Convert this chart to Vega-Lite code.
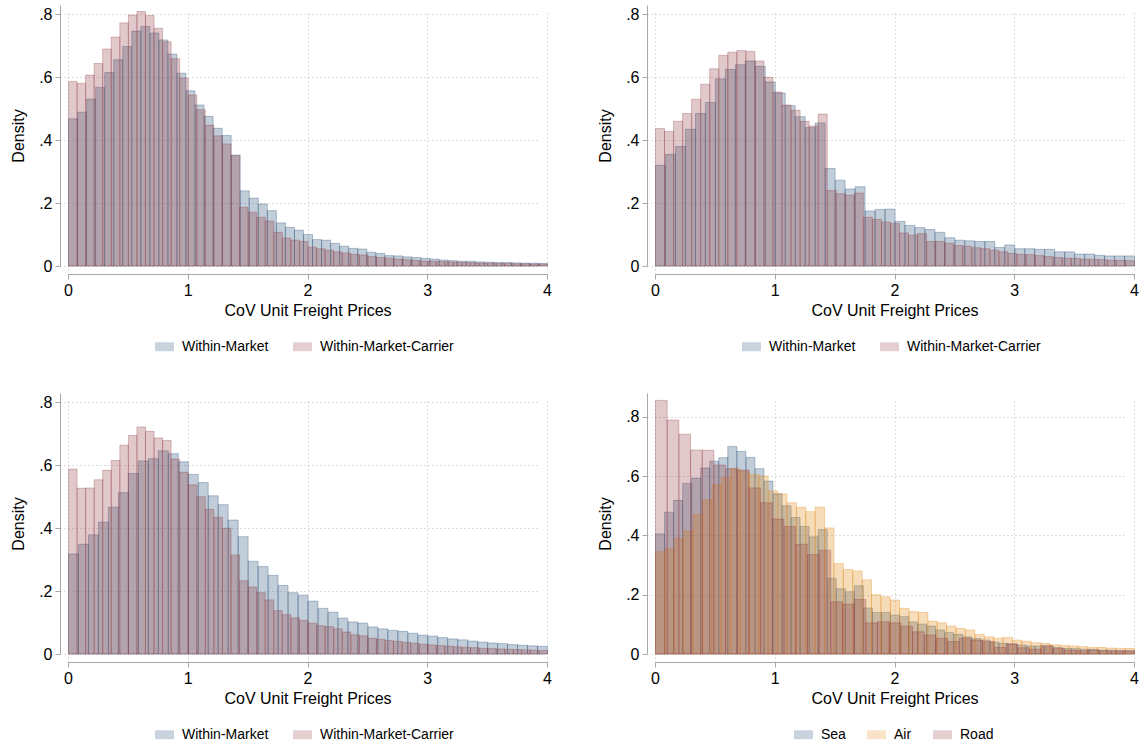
{
"$schema":"https://vega.github.io/schema/vega-lite/v6.json",
"padding":{"left":10,"top":5,"right":5,"bottom":5},
"background":"white",
"datasets":{
"p1b":[{"x":0,"d":0.468},{"x":0.07547,"d":0.489},{"x":0.15094,"d":0.531},{"x":0.22642,"d":0.568},{"x":0.30189,"d":0.615},{"x":0.37736,"d":0.656},{"x":0.45283,"d":0.698},{"x":0.5283,"d":0.747},{"x":0.60377,"d":0.762},{"x":0.67925,"d":0.741},{"x":0.75472,"d":0.719},{"x":0.83019,"d":0.674},{"x":0.90566,"d":0.613},{"x":0.98113,"d":0.557},{"x":1.0566,"d":0.512},{"x":1.13208,"d":0.476},{"x":1.20755,"d":0.438},{"x":1.28302,"d":0.415},{"x":1.35849,"d":0.353},{"x":1.43396,"d":0.239},{"x":1.50943,"d":0.216},{"x":1.58491,"d":0.197},{"x":1.66038,"d":0.176},{"x":1.73585,"d":0.137},{"x":1.81132,"d":0.123},{"x":1.88679,"d":0.114},{"x":1.96226,"d":0.1},{"x":2.03774,"d":0.084},{"x":2.11321,"d":0.082},{"x":2.18868,"d":0.072},{"x":2.26415,"d":0.063},{"x":2.33962,"d":0.056},{"x":2.41509,"d":0.054},{"x":2.49057,"d":0.044},{"x":2.56604,"d":0.04},{"x":2.64151,"d":0.033},{"x":2.71698,"d":0.032},{"x":2.79245,"d":0.029},{"x":2.86792,"d":0.027},{"x":2.9434,"d":0.024},{"x":3.01887,"d":0.022},{"x":3.09434,"d":0.019},{"x":3.16981,"d":0.017},{"x":3.24528,"d":0.015},{"x":3.32075,"d":0.015},{"x":3.39623,"d":0.013},{"x":3.4717,"d":0.012},{"x":3.54717,"d":0.011},{"x":3.62264,"d":0.011},{"x":3.69811,"d":0.01},{"x":3.77358,"d":0.009},{"x":3.84906,"d":0.009},{"x":3.92453,"d":0.008}],
"p1r":[{"x":0,"d":0.587},{"x":0.07143,"d":0.581},{"x":0.14286,"d":0.607},{"x":0.21429,"d":0.644},{"x":0.28571,"d":0.69},{"x":0.35714,"d":0.728},{"x":0.42857,"d":0.773},{"x":0.5,"d":0.798},{"x":0.57143,"d":0.809},{"x":0.64286,"d":0.797},{"x":0.71429,"d":0.756},{"x":0.78571,"d":0.713},{"x":0.85714,"d":0.659},{"x":0.92857,"d":0.598},{"x":1,"d":0.544},{"x":1.07143,"d":0.497},{"x":1.14286,"d":0.448},{"x":1.21429,"d":0.414},{"x":1.28571,"d":0.388},{"x":1.35714,"d":0.351},{"x":1.42857,"d":0.187},{"x":1.5,"d":0.171},{"x":1.57143,"d":0.155},{"x":1.64286,"d":0.143},{"x":1.71429,"d":0.107},{"x":1.78571,"d":0.089},{"x":1.85714,"d":0.082},{"x":1.92857,"d":0.078},{"x":2,"d":0.06},{"x":2.07143,"d":0.055},{"x":2.14286,"d":0.05},{"x":2.21429,"d":0.045},{"x":2.28571,"d":0.041},{"x":2.35714,"d":0.037},{"x":2.42857,"d":0.035},{"x":2.5,"d":0.03},{"x":2.57143,"d":0.027},{"x":2.64286,"d":0.025},{"x":2.71429,"d":0.022},{"x":2.78571,"d":0.02},{"x":2.85714,"d":0.018},{"x":2.92857,"d":0.016},{"x":3,"d":0.015},{"x":3.07143,"d":0.014},{"x":3.14286,"d":0.013},{"x":3.21429,"d":0.012},{"x":3.28571,"d":0.011},{"x":3.35714,"d":0.01},{"x":3.42857,"d":0.009},{"x":3.5,"d":0.009},{"x":3.57143,"d":0.008},{"x":3.64286,"d":0.008},{"x":3.71429,"d":0.007},{"x":3.78571,"d":0.007},{"x":3.85714,"d":0.006},{"x":3.92857,"d":0.006}],
"p2b":[{"x":0,"d":0.32},{"x":0.08333,"d":0.355},{"x":0.16667,"d":0.38},{"x":0.25,"d":0.435},{"x":0.33333,"d":0.485},{"x":0.41667,"d":0.52},{"x":0.5,"d":0.595},{"x":0.58333,"d":0.625},{"x":0.66667,"d":0.64},{"x":0.75,"d":0.652},{"x":0.83333,"d":0.635},{"x":0.91667,"d":0.585},{"x":1,"d":0.55},{"x":1.08333,"d":0.51},{"x":1.16667,"d":0.475},{"x":1.25,"d":0.44},{"x":1.33333,"d":0.455},{"x":1.41667,"d":0.31},{"x":1.5,"d":0.273},{"x":1.58333,"d":0.245},{"x":1.66667,"d":0.252},{"x":1.75,"d":0.175},{"x":1.83333,"d":0.18},{"x":1.91667,"d":0.181},{"x":2,"d":0.142},{"x":2.08333,"d":0.129},{"x":2.16667,"d":0.122},{"x":2.25,"d":0.116},{"x":2.33333,"d":0.107},{"x":2.41667,"d":0.09},{"x":2.5,"d":0.082},{"x":2.58333,"d":0.08},{"x":2.66667,"d":0.078},{"x":2.75,"d":0.078},{"x":2.83333,"d":0.059},{"x":2.91667,"d":0.067},{"x":3,"d":0.055},{"x":3.08333,"d":0.055},{"x":3.16667,"d":0.053},{"x":3.25,"d":0.053},{"x":3.33333,"d":0.045},{"x":3.41667,"d":0.045},{"x":3.5,"d":0.038},{"x":3.58333,"d":0.038},{"x":3.66667,"d":0.034},{"x":3.75,"d":0.032},{"x":3.83333,"d":0.032},{"x":3.91667,"d":0.032}],
"p2r":[{"x":0,"d":0.437},{"x":0.07547,"d":0.428},{"x":0.15094,"d":0.46},{"x":0.22642,"d":0.485},{"x":0.30189,"d":0.53},{"x":0.37736,"d":0.578},{"x":0.45283,"d":0.627},{"x":0.5283,"d":0.67},{"x":0.60377,"d":0.68},{"x":0.67925,"d":0.685},{"x":0.75472,"d":0.682},{"x":0.83019,"d":0.652},{"x":0.90566,"d":0.6},{"x":0.98113,"d":0.553},{"x":1.0566,"d":0.512},{"x":1.13208,"d":0.495},{"x":1.20755,"d":0.46},{"x":1.28302,"d":0.445},{"x":1.35849,"d":0.483},{"x":1.43396,"d":0.24},{"x":1.50943,"d":0.23},{"x":1.58491,"d":0.225},{"x":1.66038,"d":0.232},{"x":1.73585,"d":0.155},{"x":1.81132,"d":0.148},{"x":1.88679,"d":0.14},{"x":1.96226,"d":0.135},{"x":2.03774,"d":0.105},{"x":2.11321,"d":0.098},{"x":2.18868,"d":0.103},{"x":2.26415,"d":0.078},{"x":2.33962,"d":0.078},{"x":2.41509,"d":0.072},{"x":2.49057,"d":0.065},{"x":2.56604,"d":0.063},{"x":2.64151,"d":0.058},{"x":2.71698,"d":0.055},{"x":2.79245,"d":0.05},{"x":2.86792,"d":0.045},{"x":2.9434,"d":0.04},{"x":3.01887,"d":0.037},{"x":3.09434,"d":0.036},{"x":3.16981,"d":0.033},{"x":3.24528,"d":0.03},{"x":3.32075,"d":0.027},{"x":3.39623,"d":0.025},{"x":3.4717,"d":0.024},{"x":3.54717,"d":0.022},{"x":3.62264,"d":0.021},{"x":3.69811,"d":0.02},{"x":3.77358,"d":0.018},{"x":3.84906,"d":0.018},{"x":3.92453,"d":0.017}],
"p3b":[{"x":0,"d":0.318},{"x":0.08333,"d":0.349},{"x":0.16667,"d":0.379},{"x":0.25,"d":0.419},{"x":0.33333,"d":0.467},{"x":0.41667,"d":0.513},{"x":0.5,"d":0.574},{"x":0.58333,"d":0.614},{"x":0.66667,"d":0.621},{"x":0.75,"d":0.646},{"x":0.83333,"d":0.637},{"x":0.91667,"d":0.611},{"x":1,"d":0.571},{"x":1.08333,"d":0.545},{"x":1.16667,"d":0.503},{"x":1.25,"d":0.475},{"x":1.33333,"d":0.426},{"x":1.41667,"d":0.373},{"x":1.5,"d":0.295},{"x":1.58333,"d":0.278},{"x":1.66667,"d":0.25},{"x":1.75,"d":0.218},{"x":1.83333,"d":0.195},{"x":1.91667,"d":0.187},{"x":2,"d":0.168},{"x":2.08333,"d":0.145},{"x":2.16667,"d":0.133},{"x":2.25,"d":0.114},{"x":2.33333,"d":0.102},{"x":2.41667,"d":0.098},{"x":2.5,"d":0.086},{"x":2.58333,"d":0.08},{"x":2.66667,"d":0.075},{"x":2.75,"d":0.072},{"x":2.83333,"d":0.066},{"x":2.91667,"d":0.06},{"x":3,"d":0.057},{"x":3.08333,"d":0.052},{"x":3.16667,"d":0.048},{"x":3.25,"d":0.045},{"x":3.33333,"d":0.041},{"x":3.41667,"d":0.038},{"x":3.5,"d":0.035},{"x":3.58333,"d":0.033},{"x":3.66667,"d":0.03},{"x":3.75,"d":0.028},{"x":3.83333,"d":0.026},{"x":3.91667,"d":0.024}],
"p3r":[{"x":0,"d":0.588},{"x":0.07143,"d":0.527},{"x":0.14286,"d":0.528},{"x":0.21429,"d":0.554},{"x":0.28571,"d":0.584},{"x":0.35714,"d":0.615},{"x":0.42857,"d":0.664},{"x":0.5,"d":0.695},{"x":0.57143,"d":0.722},{"x":0.64286,"d":0.708},{"x":0.71429,"d":0.687},{"x":0.78571,"d":0.679},{"x":0.85714,"d":0.62},{"x":0.92857,"d":0.578},{"x":1,"d":0.538},{"x":1.07143,"d":0.5},{"x":1.14286,"d":0.46},{"x":1.21429,"d":0.435},{"x":1.28571,"d":0.4},{"x":1.35714,"d":0.315},{"x":1.42857,"d":0.233},{"x":1.5,"d":0.213},{"x":1.57143,"d":0.195},{"x":1.64286,"d":0.172},{"x":1.71429,"d":0.138},{"x":1.78571,"d":0.125},{"x":1.85714,"d":0.115},{"x":1.92857,"d":0.107},{"x":2,"d":0.098},{"x":2.07143,"d":0.09},{"x":2.14286,"d":0.087},{"x":2.21429,"d":0.08},{"x":2.28571,"d":0.07},{"x":2.35714,"d":0.061},{"x":2.42857,"d":0.058},{"x":2.5,"d":0.05},{"x":2.57143,"d":0.047},{"x":2.64286,"d":0.043},{"x":2.71429,"d":0.04},{"x":2.78571,"d":0.037},{"x":2.85714,"d":0.034},{"x":2.92857,"d":0.031},{"x":3,"d":0.029},{"x":3.07143,"d":0.027},{"x":3.14286,"d":0.025},{"x":3.21429,"d":0.023},{"x":3.28571,"d":0.021},{"x":3.35714,"d":0.02},{"x":3.42857,"d":0.018},{"x":3.5,"d":0.017},{"x":3.57143,"d":0.016},{"x":3.64286,"d":0.015},{"x":3.71429,"d":0.014},{"x":3.78571,"d":0.013},{"x":3.85714,"d":0.012},{"x":3.92857,"d":0.011}],
"p4s":[{"x":0,"d":0.405},{"x":0.07547,"d":0.478},{"x":0.15094,"d":0.518},{"x":0.22642,"d":0.575},{"x":0.30189,"d":0.593},{"x":0.37736,"d":0.627},{"x":0.45283,"d":0.65},{"x":0.5283,"d":0.662},{"x":0.60377,"d":0.7},{"x":0.67925,"d":0.683},{"x":0.75472,"d":0.663},{"x":0.83019,"d":0.625},{"x":0.90566,"d":0.583},{"x":0.98113,"d":0.54},{"x":1.0566,"d":0.5},{"x":1.13208,"d":0.46},{"x":1.20755,"d":0.43},{"x":1.28302,"d":0.395},{"x":1.35849,"d":0.42},{"x":1.43396,"d":0.255},{"x":1.50943,"d":0.22},{"x":1.58491,"d":0.21},{"x":1.66038,"d":0.23},{"x":1.73585,"d":0.155},{"x":1.81132,"d":0.14},{"x":1.88679,"d":0.14},{"x":1.96226,"d":0.131},{"x":2.03774,"d":0.126},{"x":2.11321,"d":0.108},{"x":2.18868,"d":0.101},{"x":2.26415,"d":0.094},{"x":2.33962,"d":0.081},{"x":2.41509,"d":0.072},{"x":2.49057,"d":0.066},{"x":2.56604,"d":0.058},{"x":2.64151,"d":0.052},{"x":2.71698,"d":0.047},{"x":2.79245,"d":0.04},{"x":2.86792,"d":0.036},{"x":2.9434,"d":0.034},{"x":3.01887,"d":0.03},{"x":3.09434,"d":0.027},{"x":3.16981,"d":0.027},{"x":3.24528,"d":0.025},{"x":3.32075,"d":0.022},{"x":3.39623,"d":0.019},{"x":3.4717,"d":0.018},{"x":3.54717,"d":0.016},{"x":3.62264,"d":0.016},{"x":3.69811,"d":0.013},{"x":3.77358,"d":0.013},{"x":3.84906,"d":0.012},{"x":3.92453,"d":0.012}],
"p4a":[{"x":0,"d":0.345},{"x":0.07843,"d":0.355},{"x":0.15686,"d":0.39},{"x":0.23529,"d":0.415},{"x":0.31373,"d":0.47},{"x":0.39216,"d":0.52},{"x":0.47059,"d":0.57},{"x":0.54902,"d":0.595},{"x":0.62745,"d":0.625},{"x":0.70588,"d":0.615},{"x":0.78431,"d":0.605},{"x":0.86275,"d":0.6},{"x":0.94118,"d":0.55},{"x":1.01961,"d":0.54},{"x":1.09804,"d":0.51},{"x":1.17647,"d":0.495},{"x":1.2549,"d":0.48},{"x":1.33333,"d":0.495},{"x":1.41176,"d":0.425},{"x":1.4902,"d":0.305},{"x":1.56863,"d":0.285},{"x":1.64706,"d":0.28},{"x":1.72549,"d":0.25},{"x":1.80392,"d":0.2},{"x":1.88235,"d":0.193},{"x":1.96078,"d":0.182},{"x":2.03922,"d":0.154},{"x":2.11765,"d":0.143},{"x":2.19608,"d":0.14},{"x":2.27451,"d":0.111},{"x":2.35294,"d":0.105},{"x":2.43137,"d":0.094},{"x":2.5098,"d":0.086},{"x":2.58824,"d":0.081},{"x":2.66667,"d":0.066},{"x":2.7451,"d":0.058},{"x":2.82353,"d":0.053},{"x":2.90196,"d":0.056},{"x":2.98039,"d":0.047},{"x":3.05882,"d":0.043},{"x":3.13725,"d":0.038},{"x":3.21569,"d":0.036},{"x":3.29412,"d":0.031},{"x":3.37255,"d":0.029},{"x":3.45098,"d":0.027},{"x":3.52941,"d":0.025},{"x":3.60784,"d":0.022},{"x":3.68627,"d":0.022},{"x":3.76471,"d":0.02},{"x":3.84314,"d":0.019},{"x":3.92157,"d":0.019}],
"p4r":[{"x":0,"d":0.855},{"x":0.09756,"d":0.789},{"x":0.19512,"d":0.741},{"x":0.29268,"d":0.688},{"x":0.39024,"d":0.687},{"x":0.4878,"d":0.637},{"x":0.58537,"d":0.625},{"x":0.68293,"d":0.62},{"x":0.78049,"d":0.56},{"x":0.87805,"d":0.51},{"x":0.97561,"d":0.455},{"x":1.07317,"d":0.43},{"x":1.17073,"d":0.37},{"x":1.26829,"d":0.335},{"x":1.36585,"d":0.35},{"x":1.46341,"d":0.176},{"x":1.56098,"d":0.168},{"x":1.65854,"d":0.184},{"x":1.7561,"d":0.105},{"x":1.85366,"d":0.109},{"x":1.95122,"d":0.105},{"x":2.04878,"d":0.094},{"x":2.14634,"d":0.075},{"x":2.2439,"d":0.064},{"x":2.34146,"d":0.053},{"x":2.43902,"d":0.042},{"x":2.53659,"d":0.053},{"x":2.63415,"d":0.047},{"x":2.73171,"d":0.042},{"x":2.82927,"d":0.022},{"x":2.92683,"d":0.034},{"x":3.02439,"d":0.021},{"x":3.12195,"d":0.016},{"x":3.21951,"d":0.029},{"x":3.31707,"d":0.019},{"x":3.41463,"d":0.013},{"x":3.5122,"d":0.011},{"x":3.60976,"d":0.013},{"x":3.70732,"d":0.011},{"x":3.80488,"d":0.01},{"x":3.90244,"d":0.01}]
},
"config":{
"font":"Liberation Sans",
"view":{"stroke":null},
"axis":{"labelFont":"Liberation Sans","labelFontSize":16,"labelColor":"#000000","titleFont":"Liberation Sans","titleFontSize":16,"titleFontWeight":"normal","titleColor":"#000000","domainColor":"#a8a8a8","tickColor":"#a8a8a8","tickSize":5,"grid":true,"gridColor":"#bdbdbd","gridDash":[1,3],"offset":8,"labelPadding":3},
"axisX":{"titlePadding":4,"labelFlush":false},
"axisY":{"titlePadding":12},
"legend":{"orient":"none","legendY":332,"direction":"horizontal","title":null,"labelFont":"Liberation Sans","labelFontSize":14,"labelColor":"#000000","symbolType":"M-1,-0.47H1V0.47H-1Z","symbolSize":361,"symbolOpacity":0.24,"symbolStrokeWidth":0,"labelOffset":8,"columnPadding":24}
},
"spacing":388,
"bounds":"flush",
"resolve":{"scale":{"color":"independent"}},
"vconcat":[
{"hconcat":[
{"width":479,"height":261,"layer":[
{"data":{"name":"p1b"},"mark":{"type":"bar","binSpacing":0,"fillOpacity":0.27,"stroke":"#1a476f","strokeOpacity":0.3,"strokeWidth":1},
"encoding":{"x":{"field":"x","type":"quantitative","bin":{"binned":true,"step":0.0754717},"scale":{"domain":[0,4],"nice":false},"axis":{"title":"CoV Unit Freight Prices","values":[0,1,2,3,4],"format":"d","grid":true}},
"y":{"field":"d","type":"quantitative","scale":{"domain":[0,0.83],"nice":false},"axis":{"title":"Density","values":[0,0.2,0.4,0.6,0.8],"labelExpr":"datum.value == 0 ? '0' : '.' + format(datum.value * 10, '.0f')"}},
"color":{"datum":"Within-Market","type":"nominal","scale":{"domain":["Within-Market","Within-Market-Carrier"],"range":["#1a476f","#90353b"]},"legend":{"legendX":87,"legendY":332}}}},
{"data":{"name":"p1r"},"mark":{"type":"bar","binSpacing":0,"fillOpacity":0.27,"stroke":"#90353b","strokeOpacity":0.3,"strokeWidth":1},
"encoding":{"x":{"field":"x","type":"quantitative","bin":{"binned":true,"step":0.0714286},"scale":{"domain":[0,4],"nice":false},"axis":{"title":"CoV Unit Freight Prices","values":[0,1,2,3,4],"format":"d","grid":true}},
"y":{"field":"d","type":"quantitative","scale":{"domain":[0,0.83],"nice":false},"axis":{"title":"Density","values":[0,0.2,0.4,0.6,0.8],"labelExpr":"datum.value == 0 ? '0' : '.' + format(datum.value * 10, '.0f')"}},
"color":{"datum":"Within-Market-Carrier","type":"nominal","scale":{"domain":["Within-Market","Within-Market-Carrier"],"range":["#1a476f","#90353b"]},"legend":{"legendX":87,"legendY":332}}}}
]},
{"width":479,"height":261,"layer":[
{"data":{"name":"p2b"},"mark":{"type":"bar","binSpacing":0,"fillOpacity":0.27,"stroke":"#1a476f","strokeOpacity":0.3,"strokeWidth":1},
"encoding":{"x":{"field":"x","type":"quantitative","bin":{"binned":true,"step":0.0833333},"scale":{"domain":[0,4],"nice":false},"axis":{"title":"CoV Unit Freight Prices","values":[0,1,2,3,4],"format":"d","grid":true}},
"y":{"field":"d","type":"quantitative","scale":{"domain":[0,0.83],"nice":false},"axis":{"title":"Density","values":[0,0.2,0.4,0.6,0.8],"labelExpr":"datum.value == 0 ? '0' : '.' + format(datum.value * 10, '.0f')"}},
"color":{"datum":"Within-Market","type":"nominal","scale":{"domain":["Within-Market","Within-Market-Carrier"],"range":["#1a476f","#90353b"]},"legend":{"legendX":87,"legendY":332}}}},
{"data":{"name":"p2r"},"mark":{"type":"bar","binSpacing":0,"fillOpacity":0.27,"stroke":"#90353b","strokeOpacity":0.3,"strokeWidth":1},
"encoding":{"x":{"field":"x","type":"quantitative","bin":{"binned":true,"step":0.0754717},"scale":{"domain":[0,4],"nice":false},"axis":{"title":"CoV Unit Freight Prices","values":[0,1,2,3,4],"format":"d","grid":true}},
"y":{"field":"d","type":"quantitative","scale":{"domain":[0,0.83],"nice":false},"axis":{"title":"Density","values":[0,0.2,0.4,0.6,0.8],"labelExpr":"datum.value == 0 ? '0' : '.' + format(datum.value * 10, '.0f')"}},
"color":{"datum":"Within-Market-Carrier","type":"nominal","scale":{"domain":["Within-Market","Within-Market-Carrier"],"range":["#1a476f","#90353b"]},"legend":{"legendX":87,"legendY":332}}}}
]}
],"spacing":108,"bounds":"flush","resolve":{"scale":{"color":"independent"}}},
{"hconcat":[
{"width":479,"height":261,"layer":[
{"data":{"name":"p3b"},"mark":{"type":"bar","binSpacing":0,"fillOpacity":0.27,"stroke":"#1a476f","strokeOpacity":0.3,"strokeWidth":1},
"encoding":{"x":{"field":"x","type":"quantitative","bin":{"binned":true,"step":0.0833333},"scale":{"domain":[0,4],"nice":false},"axis":{"title":"CoV Unit Freight Prices","values":[0,1,2,3,4],"format":"d","grid":true}},
"y":{"field":"d","type":"quantitative","scale":{"domain":[0,0.83],"nice":false},"axis":{"title":"Density","values":[0,0.2,0.4,0.6,0.8],"labelExpr":"datum.value == 0 ? '0' : '.' + format(datum.value * 10, '.0f')"}},
"color":{"datum":"Within-Market","type":"nominal","scale":{"domain":["Within-Market","Within-Market-Carrier"],"range":["#1a476f","#90353b"]},"legend":{"legendX":87,"legendY":332}}}},
{"data":{"name":"p3r"},"mark":{"type":"bar","binSpacing":0,"fillOpacity":0.27,"stroke":"#90353b","strokeOpacity":0.3,"strokeWidth":1},
"encoding":{"x":{"field":"x","type":"quantitative","bin":{"binned":true,"step":0.0714286},"scale":{"domain":[0,4],"nice":false},"axis":{"title":"CoV Unit Freight Prices","values":[0,1,2,3,4],"format":"d","grid":true}},
"y":{"field":"d","type":"quantitative","scale":{"domain":[0,0.83],"nice":false},"axis":{"title":"Density","values":[0,0.2,0.4,0.6,0.8],"labelExpr":"datum.value == 0 ? '0' : '.' + format(datum.value * 10, '.0f')"}},
"color":{"datum":"Within-Market-Carrier","type":"nominal","scale":{"domain":["Within-Market","Within-Market-Carrier"],"range":["#1a476f","#90353b"]},"legend":{"legendX":87,"legendY":332}}}}
]},
{"width":479,"height":261,"layer":[
{"data":{"name":"p4s"},"mark":{"type":"bar","binSpacing":0,"fillOpacity":0.27,"stroke":"#1a476f","strokeOpacity":0.3,"strokeWidth":1},
"encoding":{"x":{"field":"x","type":"quantitative","bin":{"binned":true,"step":0.0754717},"scale":{"domain":[0,4],"nice":false},"axis":{"title":"CoV Unit Freight Prices","values":[0,1,2,3,4],"format":"d","grid":true}},
"y":{"field":"d","type":"quantitative","scale":{"domain":[0,0.88],"nice":false},"axis":{"title":"Density","values":[0,0.2,0.4,0.6,0.8],"labelExpr":"datum.value == 0 ? '0' : '.' + format(datum.value * 10, '.0f')"}},
"color":{"datum":"Sea","type":"nominal","scale":{"domain":["Sea","Air","Road"],"range":["#1a476f","#e38a1a","#90353b"]},"legend":{"legendX":139,"legendY":332,"columnPadding":21}}}},
{"data":{"name":"p4a"},"mark":{"type":"bar","binSpacing":0,"fillOpacity":0.3,"stroke":"#e38a1a","strokeOpacity":0.32,"strokeWidth":1},
"encoding":{"x":{"field":"x","type":"quantitative","bin":{"binned":true,"step":0.0784314},"scale":{"domain":[0,4],"nice":false},"axis":{"title":"CoV Unit Freight Prices","values":[0,1,2,3,4],"format":"d","grid":true}},
"y":{"field":"d","type":"quantitative","scale":{"domain":[0,0.88],"nice":false},"axis":{"title":"Density","values":[0,0.2,0.4,0.6,0.8],"labelExpr":"datum.value == 0 ? '0' : '.' + format(datum.value * 10, '.0f')"}},
"color":{"datum":"Air","type":"nominal","scale":{"domain":["Sea","Air","Road"],"range":["#1a476f","#e38a1a","#90353b"]},"legend":{"legendX":139,"legendY":332,"columnPadding":21}}}},
{"data":{"name":"p4r"},"mark":{"type":"bar","binSpacing":0,"fillOpacity":0.27,"stroke":"#90353b","strokeOpacity":0.3,"strokeWidth":1},
"encoding":{"x":{"field":"x","type":"quantitative","bin":{"binned":true,"step":0.097561},"scale":{"domain":[0,4],"nice":false},"axis":{"title":"CoV Unit Freight Prices","values":[0,1,2,3,4],"format":"d","grid":true}},
"y":{"field":"d","type":"quantitative","scale":{"domain":[0,0.88],"nice":false},"axis":{"title":"Density","values":[0,0.2,0.4,0.6,0.8],"labelExpr":"datum.value == 0 ? '0' : '.' + format(datum.value * 10, '.0f')"}},
"color":{"datum":"Road","type":"nominal","scale":{"domain":["Sea","Air","Road"],"range":["#1a476f","#e38a1a","#90353b"]},"legend":{"legendX":139,"legendY":332,"columnPadding":21}}}}
]}
],"spacing":108,"bounds":"flush","resolve":{"scale":{"color":"independent"}}}
]
}
